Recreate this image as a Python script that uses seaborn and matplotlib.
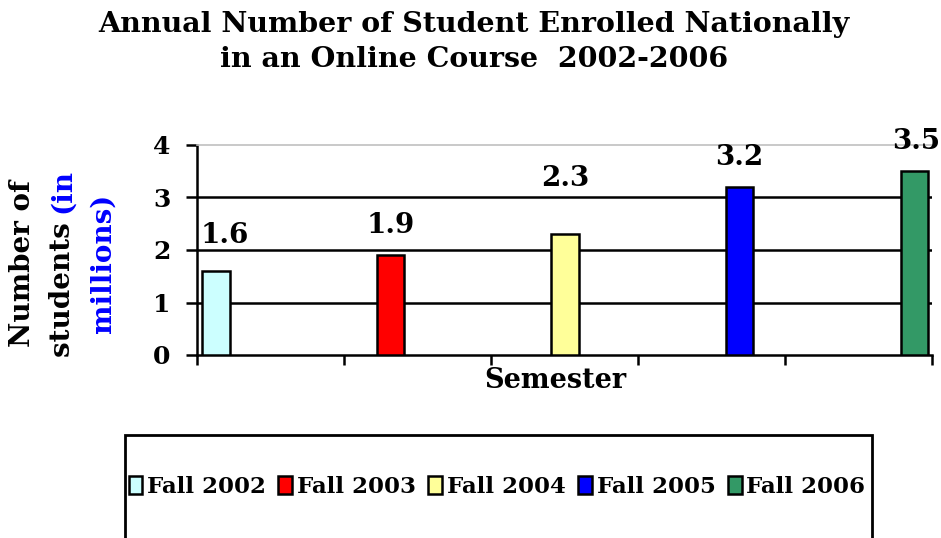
import matplotlib
matplotlib.use("Agg")
import matplotlib.pyplot as plt
import matplotlib.patches as mpatches
import numpy as np
import pandas as pd
import seaborn as sns

# ---- data ----
semesters = ["Fall 2002", "Fall 2003", "Fall 2004", "Fall 2005", "Fall 2006"]
students_millions = [1.6, 1.9, 2.3, 3.2, 3.5]
bar_colors = ["#CCFFFF", "#FF0000", "#FFFF99", "#0000FF", "#339966"]
y_ticks = [0, 1, 2, 3, 4]
title = "Annual Number of Student Enrolled Nationally\nin an Online Course  2002-2006"
x_label = "Semester"

sns.set_theme(style="white")
plt.rcParams["font.family"] = ["DejaVu Serif"]
plt.rcParams["font.weight"] = "bold"
plt.rcParams["text.color"] = "black"
plt.rcParams["axes.labelcolor"] = "black"
plt.rcParams["xtick.color"] = "black"
plt.rcParams["ytick.color"] = "black"

DPI = 100
W, H = 941, 538
fig = plt.figure(figsize=(W / DPI, H / DPI), dpi=DPI)
ax = fig.add_axes([197 / W, 1 - 355 / H, (932 - 197) / W, (355 - 145) / H])

df = pd.DataFrame({"Semester": semesters, "Students": students_millions})
sns.barplot(data=df, x="Semester", y="Students", hue="Semester",
            palette=bar_colors, saturation=1, width=0.155, edgecolor="black",
            linewidth=1.8, legend=False, ax=ax, zorder=3)

xlim = (-0.109, 4.103)
ax.set_xlim(*xlim)
ax.set_ylim(0, 4)

# gridlines
for yv in y_ticks[1:-1]:
    ax.axhline(yv, color="black", lw=1.8, zorder=1)

ax.spines["right"].set_visible(False)
ax.spines["top"].set_color("#C0C0C0")
ax.spines["top"].set_linewidth(1.2)
for s in ["left", "bottom"]:
    ax.spines[s].set_color("black")
    ax.spines[s].set_linewidth(1.8)

ax.set_yticks(y_ticks)
ax.set_yticklabels([str(t) for t in y_ticks], fontsize=18, fontweight="bold")
ax.set_xticks(np.linspace(xlim[0], xlim[1], 6))
ax.set_xticklabels([])
ax.tick_params(axis="y", direction="out", length=8, width=1.8, pad=11, left=True,
               color="black", labelcolor="black")
ax.tick_params(axis="x", direction="out", length=7, width=1.8, bottom=True, color="black")
ax.set_xlabel("")
ax.set_ylabel("")

# value labels
label_dy_px = [28, 22, 48, 22, 22]
label_dx_px = [9, 0, 0, 0, 2]
for i, v in enumerate(students_millions):
    ax.annotate(f"{v}", xy=(i, v), xytext=(label_dx_px[i] * 0.72, label_dy_px[i] * 0.72),
                textcoords="offset points", ha="center", va="baseline",
                fontsize=20, fontweight="bold", color="black", annotation_clip=False)

# x label
fig.text(555 / W, 1 - 380 / H, x_label, ha="center", va="center",
         fontsize=19.5, fontweight="bold", color="black")

# title
fig.text(474 / W, 1 - 11 / H, title, ha="center", va="top", fontsize=20.5,
         fontweight="bold", linespacing=1.38, color="black")

# y label (three rotated lines, mixed colour)
yc = 1 - 263 / H
fig.text(23 / W, yc, "Number of", rotation=90, ha="center", va="center",
         fontsize=20, fontweight="bold", color="black")
fig.text(103 / W, yc, "millions)", rotation=90, ha="center", va="center",
         fontsize=20, fontweight="bold", color="#0000FF")
renderer = fig.canvas.get_renderer()
ta = fig.text(63 / W, 0.5, "students ", rotation=90, ha="center", va="bottom",
              fontsize=20, fontweight="bold", color="black")
tb = fig.text(63 / W, 0.5, "(in", rotation=90, ha="center", va="bottom",
              fontsize=20, fontweight="bold", color="#0000FF")
ha_ = ta.get_window_extent(renderer).height / H
hb_ = tb.get_window_extent(renderer).height / H
y0 = yc - (ha_ + hb_) / 2
ta.set_y(y0)
tb.set_y(y0 + ha_)

# legend box
box = mpatches.Rectangle((125 / W, -0.05), (872 - 125) / W, 0.05 + 1 - 435 / H,
                         transform=fig.transFigure, facecolor="white",
                         edgecolor="black", linewidth=2, zorder=0)
fig.patches.append(box)
handles = [mpatches.Patch(facecolor=c, edgecolor="black", linewidth=1.8, label=s)
           for c, s in zip(bar_colors, semesters)]
fig.legend(handles=handles, loc="center", bbox_to_anchor=(497 / W, 1 - 487 / H),
           ncol=5, frameon=False, prop={"size": 16.5, "weight": "bold"},
           handlelength=0.6, handleheight=0.8, handletextpad=0.2,
           columnspacing=0.55, borderpad=0, labelcolor="black")

fig.savefig("out.png", dpi=DPI)
